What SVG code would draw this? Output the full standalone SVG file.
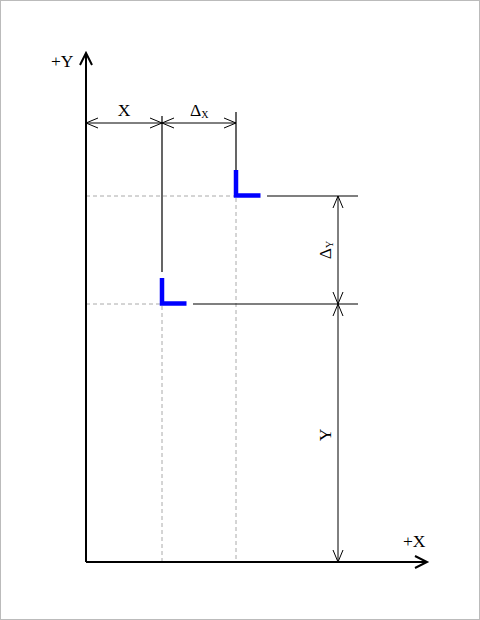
<svg xmlns="http://www.w3.org/2000/svg" width="480" height="620" viewBox="0 0 480 620">
<style>
.t{font-family:"Liberation Serif","DejaVu Serif",serif;font-size:17.5px;fill:#000}
.s{font-family:"Liberation Serif","DejaVu Serif",serif;font-size:10px;fill:#000}
.ax{stroke:#000;stroke-width:2;fill:none}
.dim{stroke:#000;stroke-width:1;fill:none}
.ext{stroke:#000;stroke-width:1.2;fill:none}
.dash{stroke:#aaa;stroke-width:1;stroke-dasharray:4,3;fill:none}
.L{stroke:#0000ff;stroke-width:4.5;fill:none;stroke-linejoin:miter}
</style>
<defs>
<marker id="oa" viewBox="0 0 14 14" refX="13" refY="7" markerWidth="14" markerHeight="14" markerUnits="userSpaceOnUse" orient="auto-start-reverse">
<path d="M1 2 L13 7 L1 12" fill="none" stroke="#000" stroke-width="1"/>
</marker>
</defs>
<rect x="0.5" y="0.5" width="479" height="619" fill="#fff" stroke="#bbb"/>
<g id="connectors">
<path class="dash" d="M86 196 H234 M236 198 V562 M86 304 H160 M162 306 V562"/>
<path class="ext" d="M162 116 V272 M236 112 V170"/>
<path class="ext" d="M267 196 H358 M193 304 H358" stroke="#555"/>
<path class="dim" d="M86 123 H162" marker-start="url(#oa)" marker-end="url(#oa)"/>
<path class="dim" d="M162 123 H236" marker-start="url(#oa)" marker-end="url(#oa)"/>
<path class="dim" d="M338 196 V304" marker-start="url(#oa)" marker-end="url(#oa)"/>
<path class="dim" d="M338 304 V562" marker-start="url(#oa)" marker-end="url(#oa)"/>
</g>
<g id="axes">
<path class="ax" d="M86 562 V53 M80 65 L86 53 L92 65"/>
<path class="ax" d="M86 562 H427 M415 556 L427 562 L415 568"/>
<text class="t" x="51" y="67">+Y</text>
<text class="t" x="403" y="547">+X</text>
</g>
<g id="part-upper">
<path class="L" d="M236 170 V195.5 H260.5"/>
</g>
<g id="part-lower">
<path class="L" d="M162 278 V303.5 H186.5"/>
</g>
<g id="labels">
<text class="t" x="124" y="116" text-anchor="middle">X</text>
<text class="t" x="190" y="116">Δ<tspan class="s" dy="2">X</tspan></text>
<g transform="translate(331 250) rotate(-90)">
<text class="t" x="0" y="0" text-anchor="middle">Δ<tspan class="s" dy="2">Y</tspan></text>
</g>
<text class="t" transform="translate(331 435) rotate(-90)" text-anchor="middle">Y</text>
</g>
</svg>
